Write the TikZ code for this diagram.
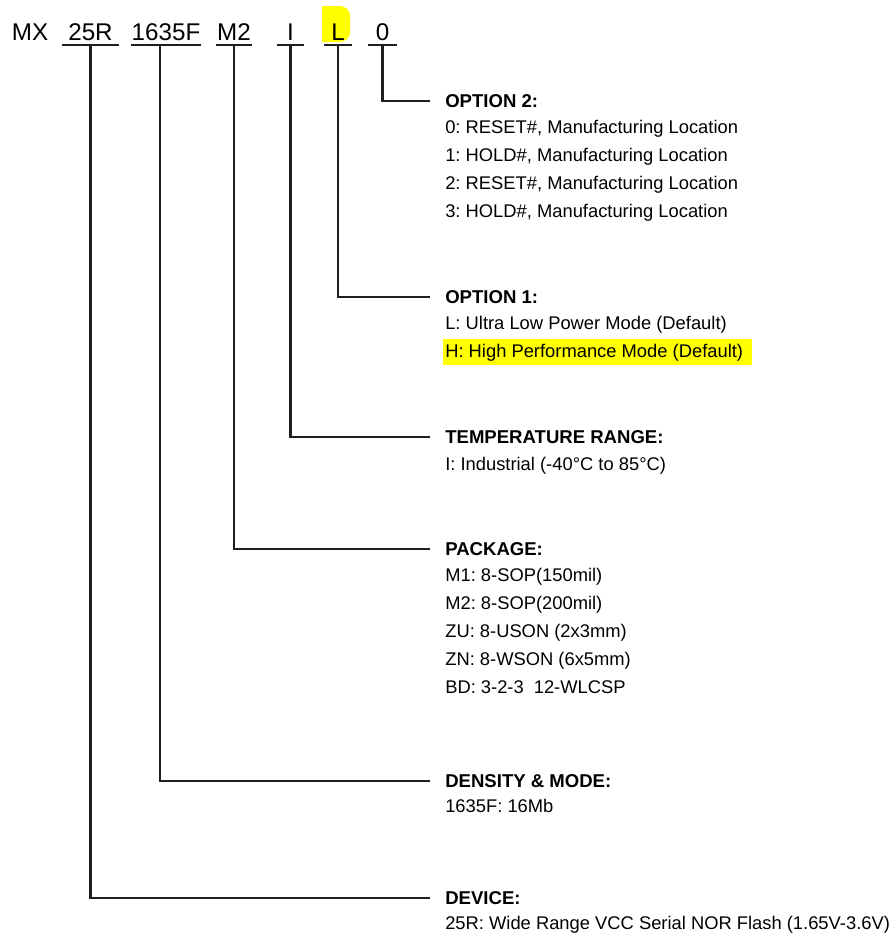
\documentclass[tikz,border=0pt]{standalone}
\usepackage{fontspec}
\setmainfont{Liberation Sans}
\usepackage{xcolor}
\usepackage{tikz}
\usetikzlibrary{positioning}
\definecolor{AmarilloMarca}{RGB}{255,255,0}
\definecolor{GrisLinea}{RGB}{30,30,30}
\frenchspacing

\begin{document}
\begin{tikzpicture}[x=0.025cm,y=-0.025cm,
  codigo/.style={font=\fontsize{17.2}{20}\selectfont,text depth=0pt,inner xsep=0pt,inner ysep=0.11cm,anchor=base},
  titulo/.style={font=\fontsize{13.2}{16}\selectfont\bfseries,text height=0.33cm,text depth=0pt,inner ysep=0pt,inner xsep=0.375cm,anchor=west},
  lista/.style={font=\fontsize{13.05}{19.9}\selectfont,align=left,inner sep=0pt,anchor=base west},
  guia/.style={draw=GrisLinea,line width=1.6pt}]
  \useasboundingbox (0,0) rectangle (894,940);
  % marcas amarillas
  \fill[AmarilloMarca] (322,42) |- (336,6) [rounded corners=0.25cm] -| (350,42) [sharp corners] -- cycle;
  \fill[AmarilloMarca] (443,339) rectangle (752,365);
  % codigo de pieza
  \node[codigo] (cMX) at (30,40.5) {MX};
  \node[codigo,minimum width=1.425cm] (c25R) at (90.5,40.5) {25R};
  \node[codigo,minimum width=1.65cm] (c1635F) at (166,40.5) {1635F};
  \node[codigo,minimum width=0.9cm] (cM2) at (234,40.5) {M2};
  \node[codigo,minimum width=0.675cm] (cI) at (290.5,40.5) {I};
  \node[codigo,minimum width=0.7cm] (cL) at (338,40.5) {L};
  \node[codigo,minimum width=0.725cm] (c0) at (382.5,40.5) {0};
  \foreach \c in {c25R,c1635F,cM2,cI,cL,c0}
    \draw[guia] (\c.south west) -- (\c.south east);
  % titulos
  \node[titulo] (hOpcion2) at (430,101) {OPTION 2:};
  \node[titulo] (hOpcion1) at (430,297) {OPTION 1:};
  \node[titulo] (hTemp) at (430,437) {TEMPERATURE RANGE:};
  \node[titulo] (hPaquete) at (430,549) {PACKAGE:};
  \node[titulo] (hDensidad) at (430,781) {DENSITY \& MODE:};
  \node[titulo] (hDispositivo) at (430,898) {DEVICE:};
  % listas (base = ultima linea)
  \node[lista] (lOpcion2) at ([xshift=0.375cm,yshift=-2.75cm]hOpcion2.base west) {0: RESET\#, Manufacturing Location\\1: HOLD\#, Manufacturing Location\\2: RESET\#, Manufacturing Location\\3: HOLD\#, Manufacturing Location};
  \node[lista] (lOpcion1) at ([xshift=0.375cm,yshift=-1.35cm]hOpcion1.base west) {L: Ultra Low Power Mode (Default)\\H: High Performance Mode (Default)};
  \node[lista] (lTemp) at ([xshift=0.375cm,yshift=-0.68cm]hTemp.base west) {I: Industrial (-40°C to 85°C)};
  \node[lista] (lPaquete) at ([xshift=0.375cm,yshift=-3.45cm]hPaquete.base west) {M1: 8-SOP(150mil)\\M2: 8-SOP(200mil)\\ZU: 8-USON (2x3mm)\\ZN: 8-WSON (6x5mm)\\BD: 3-2-3\hspace{0.25cm}12-WLCSP};
  \node[lista] (lDensidad) at ([xshift=0.375cm,yshift=-0.63cm]hDensidad.base west) {1635F: 16Mb};
  \node[lista] (lDispositivo) at ([xshift=0.375cm,yshift=-0.62cm]hDispositivo.base west) {25R: Wide Range VCC Serial NOR Flash (1.65V-3.6V)};
  % guias
  \draw[guia] (c0.south) |- (hOpcion2.west);
  \draw[guia] (cL.south) |- (hOpcion1.west);
  \draw[guia] (cI.south) |- (hTemp.west);
  \draw[guia] (cM2.south) |- (hPaquete.west);
  \draw[guia] ([xshift=-0.15cm]c1635F.south) |- (hDensidad.west);
  \draw[guia] (c25R.south) |- (hDispositivo.west);
\end{tikzpicture}
\end{document}
